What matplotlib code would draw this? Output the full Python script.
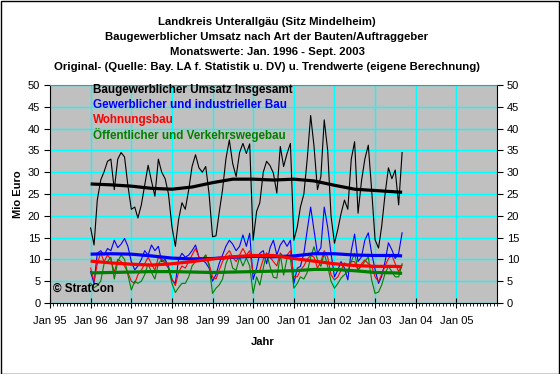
import matplotlib
matplotlib.use('Agg')
import matplotlib.pyplot as plt
import matplotlib.dates as mdates
import pandas as pd
from matplotlib.patches import Rectangle

plt.rcParams['font.family'] = ['Liberation Sans', 'DejaVu Sans']

# ---------------- data ----------------
title_lines = [
    "Landkreis Unterallgäu (Sitz Mindelheim)",
    "Baugewerblicher Umsatz nach Art der Bauten/Auftraggeber",
    "Monatswerte: Jan. 1996 - Sept. 2003",
    "Original- (Quelle: Bay. LA f. Statistik u. DV) u. Trendwerte (eigene Berechnung)",
]
series_names = [
    "Baugewerblicher Umsatz Insgesamt",
    "Gewerblicher und industrieller Bau",
    "Wohnungsbau",
    "Öffentlicher und Verkehrswegebau",
]
series_colors = ['#000000', '#0000FF', '#FF0000', '#008000']

months = pd.date_range('1996-01-01', periods=93, freq='MS')

insgesamt = [
    17.2, 13.3, 23.6, 28.2, 30.1, 32.5, 33.0, 26.0, 33.0, 34.5, 33.5, 27.0,
    21.5, 22.0, 19.5, 22.5, 27.0, 31.6, 28.0, 24.5, 33.0, 30.0, 28.5, 25.0,
    17.5, 13.0, 19.0, 23.0, 21.5, 26.0, 31.3, 34.0, 31.0, 30.0, 31.3, 25.0,
    15.2, 15.4, 20.6, 26.0, 33.0, 37.4, 32.0, 29.0, 34.5, 36.6, 34.3, 36.5,
    14.4, 21.0, 23.0, 30.0, 32.5, 31.5, 29.8, 25.2, 35.9, 31.3, 34.3, 36.6,
    14.4, 17.5, 22.0, 25.0, 33.0, 43.0, 36.0, 26.0, 29.0, 42.0, 35.0, 20.0,
    13.7, 17.0, 20.5, 23.6, 21.5, 33.0, 37.0, 20.6, 28.0, 33.0, 36.2, 26.0,
    14.5, 12.6, 17.5, 25.0, 31.0, 28.5, 30.5, 22.5, 34.5,
]
gewerblich = [
    7.2, 4.5, 11.4, 12.0, 11.0, 12.5, 12.0, 14.4, 12.7, 13.5, 14.8, 13.0,
    9.5, 7.6, 8.5, 10.0, 12.0, 11.0, 13.3, 12.0, 13.0, 9.5, 10.0, 8.4,
    5.3, 4.5, 9.9, 11.4, 10.5, 11.0, 12.0, 13.3, 10.5, 9.9, 9.2, 8.0,
    5.0, 6.5, 9.0, 11.0, 13.0, 14.4, 13.5, 12.0, 13.0, 15.6, 13.0, 16.0,
    5.4, 8.0, 11.4, 12.0, 9.0, 12.7, 14.4, 11.0, 13.3, 14.4, 13.0, 14.4,
    4.5, 8.0, 8.4, 11.4, 16.7, 22.0, 16.7, 11.4, 12.7, 22.0, 17.4, 11.4,
    6.0, 7.6, 9.5, 8.0, 5.3, 12.0, 15.8, 9.5, 10.6, 14.4, 16.1, 11.4,
    7.7, 4.5, 6.1, 9.5, 13.8, 12.2, 10.2, 11.4, 16.1,
]
wohnungsbau = [
    8.0, 5.0, 9.0, 11.5, 9.5, 11.0, 10.0, 7.0, 10.0, 9.5, 8.5, 7.0,
    5.0, 4.5, 6.5, 7.5, 9.0, 10.5, 9.0, 7.5, 10.5, 10.0, 9.0, 8.0,
    5.5, 4.0, 7.0, 8.5, 8.0, 9.5, 11.0, 12.5, 10.5, 10.0, 11.0, 9.0,
    6.0, 5.5, 7.5, 9.5, 11.0, 12.0, 10.5, 9.5, 11.0, 12.5, 11.0, 12.0,
    6.8, 7.0, 7.5, 10.0, 11.5, 10.5, 9.5, 8.5, 11.5, 10.5, 11.0, 12.0,
    6.0, 6.0, 7.5, 8.5, 10.0, 11.0, 10.5, 8.0, 9.5, 12.0, 10.5, 6.5,
    5.3, 6.0, 7.5, 9.2, 8.5, 9.5, 9.5, 7.5, 9.0, 9.9, 9.0, 8.5,
    6.0, 4.9, 6.5, 8.5, 10.2, 10.9, 9.0, 7.2, 8.7,
]
oeffentlich = [
    4.5, 3.5, 4.0, 5.0, 9.0, 9.5, 10.5, 5.5, 9.5, 11.0, 10.0, 6.5,
    3.0, 5.0, 4.5, 5.0, 6.5, 9.0, 7.0, 5.5, 9.0, 10.0, 9.5, 8.0,
    4.5, 2.4, 3.5, 4.5, 4.5, 6.0, 8.5, 9.5, 10.0, 10.0, 11.0, 8.5,
    2.2, 3.4, 4.1, 5.5, 9.0, 11.0, 8.0, 7.5, 10.5, 8.5, 10.3, 8.5,
    2.2, 6.0, 4.1, 8.0, 11.4, 8.3, 5.9, 5.7, 11.1, 6.4, 10.3, 10.2,
    3.4, 4.5, 6.0, 5.5, 7.0, 10.5, 12.9, 9.9, 8.4, 11.4, 8.4, 5.0,
    3.4, 4.5, 5.7, 6.5, 7.2, 9.5, 11.4, 7.6, 8.5, 9.5, 10.6, 5.3,
    2.2, 2.5, 4.1, 6.8, 8.4, 7.2, 6.0, 6.0, 9.0,
]

trend_dates = pd.to_datetime([
    '1996-01-01', '1996-07-01', '1997-01-01', '1997-07-01', '1998-01-01',
    '1998-07-01', '1999-01-01', '1999-07-01', '2000-01-01', '2000-07-01',
    '2001-01-01', '2001-07-01', '2002-01-01', '2002-07-01', '2003-01-01',
    '2003-07-01', '2003-09-01',
])
trend_insgesamt = [27.3, 27.1, 26.8, 26.3, 26.1, 26.6, 27.6, 28.4, 28.4,
                   28.2, 28.4, 28.0, 27.0, 26.1, 25.8, 25.5, 25.4]
trend_gewerblich = [11.2, 11.3, 11.2, 10.8, 10.3, 10.1, 10.2, 10.5, 10.7,
                    10.6, 10.8, 11.3, 11.3, 11.0, 10.9, 10.9, 10.8]
trend_wohnungsbau = [9.6, 9.2, 8.9, 8.7, 9.0, 9.5, 10.1, 10.6, 10.9,
                     10.9, 10.2, 9.6, 9.0, 8.6, 8.4, 8.4, 8.3]
trend_oeffentlich = [6.9, 7.0, 7.1, 7.2, 7.2, 7.1, 7.0, 7.1, 7.2,
                     7.3, 7.4, 7.7, 7.7, 7.4, 7.0, 6.9, 6.8]

x_tick_years = list(range(1995, 2006))
x_tick_labels = ['Jan 95', 'Jan 96', 'Jan 97', 'Jan 98', 'Jan 99', 'Jan 00',
                 'Jan 01', 'Jan 02', 'Jan 03', 'Jan 04', 'Jan 05']
y_ticks = [0, 5, 10, 15, 20, 25, 30, 35, 40, 45, 50]

# ---------------- figure ----------------
W, H = 560, 374
fig = plt.figure(figsize=(W / 100, H / 100), dpi=100)
fig.patch.set_facecolor('white')
fig.patches.append(Rectangle((0.5 / W, 0.5 / H), 1 - 1.5 / W, 1 - 1.5 / H,
                             transform=fig.transFigure, fill=False,
                             edgecolor='black', lw=1.0))

L, R, T, B = 50, 497, 85, 303
ax = fig.add_axes([L / W, 1 - B / H, (R - L) / W, (B - T) / H])
ax.set_facecolor('#C0C0C0')

xmin, xmax = pd.Timestamp('1995-01-01'), pd.Timestamp('2006-01-01')
ax.set_xlim(xmin, xmax)
ax.set_ylim(0, 50)

tick_dates = [pd.Timestamp(f'{y}-01-01') for y in x_tick_years]
ax.set_xticks(tick_dates)
ax.set_xticklabels(x_tick_labels)
ax.xaxis.set_minor_locator(mdates.MonthLocator())
ax.set_yticks(y_ticks)
ax.set_yticklabels([str(v) for v in y_ticks])

ax.grid(True, which='major', color='#00FFFF', lw=1.0)
ax.set_axisbelow(True)

ax.tick_params(axis='x', which='major', direction='inout', length=7,
               width=0.8, labelsize=8, pad=6)
ax.tick_params(axis='x', which='minor', direction='out', length=2.2, width=0.6)
ax.tick_params(axis='y', direction='out', length=4, width=0.8,
               labelsize=8, pad=3)

for s in ['left', 'bottom', 'right']:
    ax.spines[s].set_color('black')
    ax.spines[s].set_linewidth(0.8)
ax.spines['top'].set_color('#808080')
ax.spines['top'].set_linewidth(0.8)

ax2 = ax.twinx()
ax2.set_ylim(0, 50)
ax2.set_yticks(y_ticks)
ax2.set_yticklabels([str(v) for v in y_ticks])
ax2.tick_params(axis='y', direction='out', length=4, width=0.8,
                labelsize=8, pad=3)
for s in ax2.spines.values():
    s.set_visible(False)

thin = [insgesamt, gewerblich, wohnungsbau, oeffentlich]
trends = [trend_insgesamt, trend_gewerblich, trend_wohnungsbau, trend_oeffentlich]
for vals, c in zip(thin, series_colors):
    ax.plot(months, vals, color=c, lw=0.8, zorder=3)
for vals, c in zip(trends, series_colors):
    ax.plot(trend_dates, vals, color=c, lw=2.3, zorder=4,
            solid_capstyle='butt')

# legend as coloured text
for i, (name, c) in enumerate(zip(series_names, series_colors)):
    ax.text(93 / W, 1 - (90 + 15 * i) / H, name, transform=fig.transFigure,
            color=c, fontsize=8.4, fontweight='bold', va='center', ha='left',
            zorder=6)

ax.text(53 / W, 1 - 289 / H, '© StratCon', transform=fig.transFigure,
        fontsize=8.4, fontweight='bold', va='center', ha='left', zorder=6)

# titles
for i, line in enumerate(title_lines):
    fig.text(267 / W, 1 - (22 + 15 * i) / H, line, ha='center', va='center',
             fontsize=8.2, fontweight='bold')

fig.text(18 / W, 1 - 194 / H, 'Mio Euro', rotation=90, ha='center',
         va='center', fontsize=8, fontweight='bold')
fig.text(263 / W, 1 - 342 / H, 'Jahr', ha='center', va='center',
         fontsize=8, fontweight='bold')

fig.savefig('out.png', dpi=100, facecolor='white')
